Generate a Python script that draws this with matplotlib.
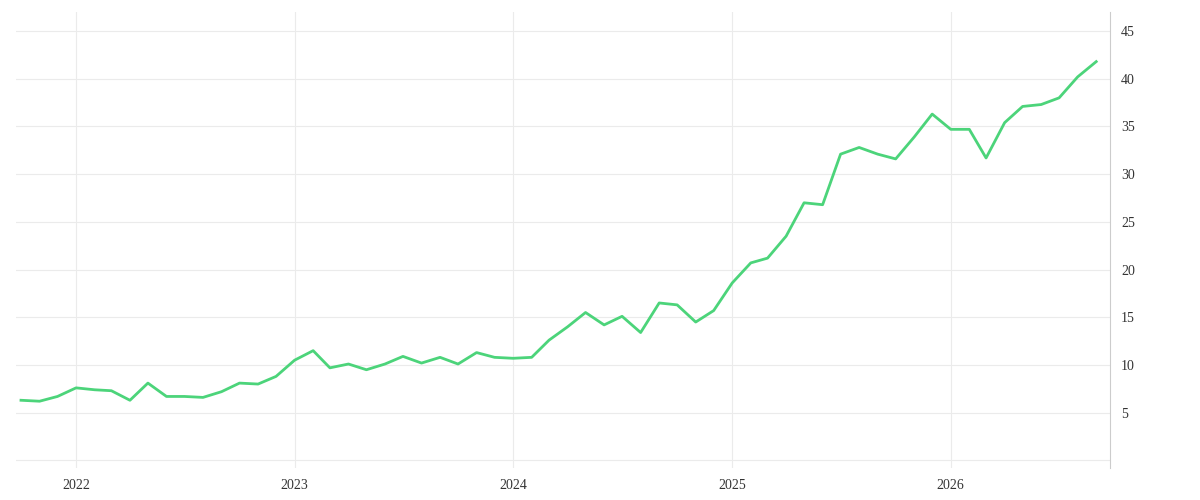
import numpy as np
import pandas as pd
import matplotlib.pyplot as plt
import matplotlib.dates as mdates

values = [6.3, 6.2, 6.7, 7.6, 7.4, 7.3, 6.3, 8.1, 6.7, 6.7, 6.6, 7.2,
          8.1, 8.0, 8.8, 10.5, 11.5, 9.7, 10.1, 9.5, 10.1, 10.9, 10.2, 10.8,
          10.1, 11.3, 10.8, 10.7, 10.8, 12.6, 14.0, 15.5, 14.2, 15.1, 13.4, 16.5,
          16.3, 14.5, 15.7, 18.6, 20.7, 21.2, 23.5, 27.0, 26.8, 32.1, 32.8, 32.1,
          31.6, 33.9, 36.3, 34.7, 34.7, 31.7, 35.4, 37.1, 37.3, 38.0, 40.2, 41.8]
dates = pd.date_range('2021-10-01', periods=len(values), freq='MS')

plt.rcParams['font.family'] = ['Liberation Serif', 'DejaVu Serif']
fig = plt.figure(figsize=(12, 5), dpi=100)
ax = fig.add_axes([0.013, 0.064, 0.912, 0.912])
ax.plot(dates, values, color='#4cd47a', lw=2)

ax.set_ylim(-0.8, 47)
ax.set_xlim(pd.Timestamp('2021-09-22'), pd.Timestamp('2026-09-24'))
ax.set_yticks(range(0, 50, 5))
ax.set_yticklabels([''] + [str(v) for v in range(5, 50, 5)])
ax.yaxis.tick_right()
ax.xaxis.set_major_locator(mdates.YearLocator())
ax.xaxis.set_major_formatter(mdates.DateFormatter('%Y'))
ax.grid(color='#ebebeb', lw=0.8)
for s in ['top', 'left', 'bottom']:
    ax.spines[s].set_visible(False)
ax.spines['right'].set_color('#cccccc')
ax.tick_params(length=0, labelsize=10, colors='#333333', pad=8)
fig.savefig('out.png')
